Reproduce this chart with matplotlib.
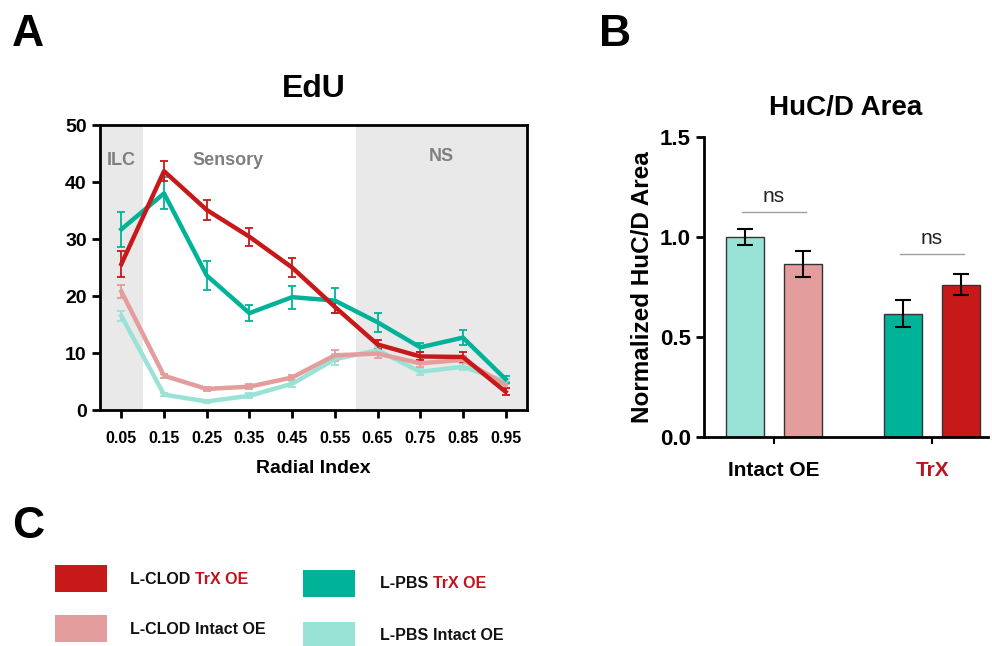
import matplotlib
matplotlib.use('Agg')
import matplotlib.pyplot as plt
from matplotlib.patches import Rectangle

plt.rcParams['font.family'] = ['Liberation Sans', 'DejaVu Sans']
plt.rcParams['font.weight'] = 'bold'

# ---- data: panel A (EdU vs radial index) ----
radial = [0.05, 0.15, 0.25, 0.35, 0.45, 0.55, 0.65, 0.75, 0.85, 0.95]
clod_trx = [25.6, 41.9, 35.1, 30.4, 25.0, 18.1, 11.5, 9.4, 9.3, 3.2]
clod_trx_err = [2.3, 1.8, 1.7, 1.6, 1.6, 1.0, 0.8, 0.7, 0.8, 0.6]
pbs_trx = [31.7, 38.0, 23.6, 17.0, 19.8, 19.2, 15.4, 11.0, 12.7, 5.4]
pbs_trx_err = [3.1, 2.8, 2.5, 1.4, 2.0, 2.2, 1.7, 0.8, 1.3, 0.6]
clod_intact = [20.8, 6.0, 3.7, 4.1, 5.7, 9.6, 9.9, 8.2, 8.8, 4.4]
clod_intact_err = [1.1, 0.4, 0.3, 0.4, 0.5, 1.0, 0.7, 0.6, 0.6, 0.5]
pbs_intact = [16.5, 2.7, 1.5, 2.5, 4.6, 8.9, 10.5, 6.7, 7.6, 5.0]
pbs_intact_err = [0.8, 0.3, 0.2, 0.4, 0.5, 1.0, 0.6, 0.6, 0.6, 0.5]

zones = ['ILC', 'Sensory', 'NS']
zone_edges = [(0.0, 0.1), (0.1, 0.6), (0.6, 1.0)]

# ---- data: panel B (HuC/D area) ----
groups = ['Intact OE', 'TrX']
pbs_area = [1.0, 0.616]
pbs_area_err = [0.042, 0.067]
clod_area = [0.863, 0.762]
clod_area_err = [0.065, 0.054]
ns_levels = [1.125, 0.916]

series_names = ['L-CLOD', 'L-PBS']

RED = '#c8191a'
PINK = '#e29d9c'
TEAL = '#00b398'
LTEAL = '#98e3d6'
TRXRED = '#c0141c'
GREY = '#e9e9e9'

fig = plt.figure(figsize=(9.92, 6.46), dpi=100)

# ---------------- panel A ----------------
ax = fig.add_axes([0.1008, 0.3653, 0.4304, 0.4412])
for (a, b), name in zip(zone_edges, zones):
    if name != 'Sensory':
        ax.axvspan(a, b, color=GREY, zorder=0, lw=0)
label_pos = {'ILC': (0.05, 43.7), 'Sensory': (0.3, 43.7), 'NS': (0.8, 44.4)}
for name in zones:
    x, y = label_pos[name]
    ax.text(x, y, name, ha='center', va='center', color='#7f7f7f',
            fontsize=13, fontweight='bold')

for vals, errs, col in [(pbs_intact, pbs_intact_err, LTEAL),
                        (clod_intact, clod_intact_err, PINK),
                        (pbs_trx, pbs_trx_err, TEAL),
                        (clod_trx, clod_trx_err, RED)]:
    ax.errorbar(radial, vals, yerr=errs, color=col, lw=3.2, elinewidth=1.3,
                capsize=3, capthick=1.3)

ax.set_xlim(0, 1)
ax.set_ylim(0, 50)
ax.set_xticks(radial)
ax.set_xticklabels([f'{r:.2f}' for r in radial], fontsize=11.5)
ax.set_yticks([0, 10, 20, 30, 40, 50])
ax.tick_params(axis='y', labelsize=14, width=2, length=6)
ax.tick_params(axis='x', width=2, length=6, pad=9)
for s in ax.spines.values():
    s.set_linewidth(2)
ax.set_xlabel('Radial Index', fontsize=14, fontweight='bold', labelpad=10)
ax.set_title('EdU', fontsize=23, fontweight='bold', pad=20)

# ---------------- panel B ----------------
bx = fig.add_axes([0.7097, 0.3235, 0.2863, 0.4644])
xg = [0, 1]
off = 0.185
w = 0.24
intact_cols = [LTEAL, TEAL]
clod_cols = [PINK, RED]
for i in xg:
    bx.bar(i - off, pbs_area[i], w, color=intact_cols[i], edgecolor='#333333', lw=1)
    bx.bar(i + off, clod_area[i], w, color=clod_cols[i], edgecolor='#333333', lw=1)
bx.errorbar([i - off for i in xg], pbs_area, yerr=pbs_area_err, fmt='none',
            ecolor='black', elinewidth=1.5, capsize=6, capthick=1.5)
bx.errorbar([i + off for i in xg], clod_area, yerr=clod_area_err, fmt='none',
            ecolor='black', elinewidth=1.5, capsize=6, capthick=1.5)
for i, lvl in zip(xg, ns_levels):
    bx.plot([i - off - 0.02, i + off + 0.02], [lvl, lvl], color='#a0a0a0', lw=1)
    bx.text(i, lvl + 0.03, 'ns', ha='center', va='bottom', fontsize=15,
            fontweight='normal', color='#222222')

bx.set_xlim(-0.443, 1.354)
bx.set_ylim(0, 1.5)
bx.set_yticks([0, 0.5, 1.0, 1.5])
bx.set_xticks(xg)
bx.set_xticklabels(groups, fontsize=15)
bx.get_xticklabels()[1].set_color(TRXRED)
bx.tick_params(axis='y', labelsize=16, width=2, length=6)
bx.tick_params(axis='x', width=1.5, length=5, pad=12)
for side in ['top', 'right']:
    bx.spines[side].set_visible(False)
for side in ['left', 'bottom']:
    bx.spines[side].set_linewidth(2)
bx.set_ylabel('Normalized HuC/D Area', fontsize=17.5, fontweight='bold')
bx.set_title('HuC/D Area', fontsize=20, fontweight='bold', pad=16)

# ---------------- panel C (legend) ----------------
cx = fig.add_axes([0, 0, 1, 1], facecolor='none')
cx.axis('off')
W, H = 992.0, 646.0
entries = [
    (series_names[0], 'TrX OE', RED, 55, 565, 130, 580),
    (series_names[0], 'Intact OE', PINK, 55, 615, 130, 630),
    (series_names[1], 'TrX OE', TEAL, 303, 570, 380, 584),
    (series_names[1], 'Intact OE', LTEAL, 303, 622, 380, 636),
]
for name, cond, col, rx, ry, tx, ty in entries:
    cx.add_patch(Rectangle((rx / W, 1 - (ry + 27) / H), 52 / W, 27 / H,
                           transform=fig.transFigure, color=col, lw=0))
    t1 = cx.text(tx / W, 1 - ty / H, name + ' ', transform=fig.transFigure,
                 ha='left', va='center', fontsize=11.5, fontweight='bold', color='#111111')
    cx.annotate(cond, xy=(1, 0.5), xycoords=t1, ha='left', va='center',
                fontsize=11.5, fontweight='bold',
                color=TRXRED if cond.startswith('TrX') else '#111111')

for lab, x, y in [('A', 28, 35), ('B', 615, 35), ('C', 28, 527)]:
    fig.text(x / W, 1 - y / H, lab, ha='center', va='center', fontsize=32,
             fontweight='bold')

fig.savefig('out.png', dpi=100)
